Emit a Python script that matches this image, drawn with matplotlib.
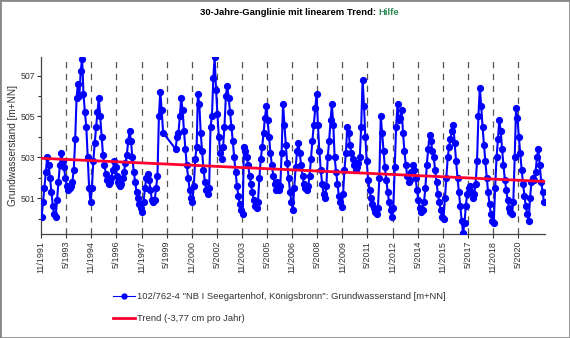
import numpy as np
import pandas as pd
import matplotlib
matplotlib.use("Agg")
import matplotlib.pyplot as plt
from matplotlib.patches import Rectangle
from matplotlib.lines import Line2D

plt.rcParams['font.family'] = ['Liberation Sans', 'DejaVu Sans']

# Monatswerte Grundwasserstand [m+NN], Nov 1991 .. Nov 2021
lvl_1991 = [500.1, 500.8]
lvl_1992 = [501.5, 502.3, 503.0, 502.6, 502.0, 501.3, 500.6, 500.2, 500.1, 500.9, 501.8, 502.6]
lvl_1993 = [503.2, 502.8, 502.5, 502.0, 501.6, 501.4, 501.5, 501.6, 501.8, 502.4, 503.9, 505.9]
lvl_1994 = [506.6, 506.0, 507.2, 507.8, 506.1, 505.2, 504.5, 503.0, 501.5, 500.8, 501.5, 502.8]
lvl_1995 = [503.7, 504.5, 505.2, 505.9, 505.0, 504.0, 503.1, 502.6, 502.2, 501.9, 501.7, 501.8]
lvl_1996 = [502.0, 502.4, 502.8, 502.5, 502.1, 501.8, 501.6, 501.7, 502.0, 502.3, 502.7, 503.1]
lvl_1997 = [503.8, 504.3, 503.8, 503.0, 502.3, 501.8, 501.3, 501.0, 500.7, 500.5, 500.3, 500.8]
lvl_1998 = [501.5, 502.0, 502.2, 501.9, 501.4, 500.9, 500.8, 500.9, 501.5, 502.1, 505.0, 506.2]
lvl_1999 = [505.3, 504.2, np.nan, np.nan, np.nan, np.nan, np.nan, np.nan, np.nan, np.nan, 503.4, 504.0]
lvl_2000 = [504.2, 505.0, 505.9, 505.3, 504.3, 503.4, 502.6, 502.0, 501.4, 501.0, 500.8, 501.6]
lvl_2001 = [502.9, 503.5, 506.1, 505.6, 504.2, 503.3, 502.4, 501.8, 501.4, 501.2, 501.5, 504.5]
lvl_2002 = [505.0, 506.9, 507.9, 506.3, 505.1, 504.0, 503.2, 502.9, 503.5, 504.5, 506.0, 506.5]
lvl_2003 = [505.9, 505.2, 504.5, 503.8, 503.0, 502.3, 501.6, 501.1, 500.7, 500.4, 500.2, 503.5]
lvl_2004 = [503.3, 503.0, 502.6, 502.1, 501.7, 501.3, 500.9, 500.6, 500.5, 500.8, 502.0, 502.9]
lvl_2005 = [503.5, 504.2, 504.9, 505.5, 504.8, 504.0, 503.2, 502.6, 502.1, 501.7, 501.4, 501.8]
lvl_2006 = [501.4, 501.6, 503.2, 505.6, 504.6, 503.6, 502.7, 502.0, 501.3, 500.8, 500.4, 501.5]
lvl_2007 = [502.5, 503.3, 503.7, 503.2, 502.6, 502.1, 501.7, 501.5, 501.4, 501.6, 502.1, 502.9]
lvl_2008 = [503.8, 504.6, 505.4, 506.1, 504.6, 503.3, 502.4, 501.7, 501.2, 501.0, 501.6, 503.0]
lvl_2009 = [503.8, 504.8, 505.6, 504.6, 503.0, 502.3, 501.7, 501.1, 500.8, 500.55, 501.2, 502.4]
lvl_2010 = [503.2, 504.5, 504.2, 503.6, 503.2, 502.9, 502.6, 502.4, 502.5, 502.7, 503.0, 504.5]
lvl_2011 = [506.8, 505.5, 504.0, 502.8, 501.9, 501.4, 501.0, 500.7, 500.5, 500.3, 500.2, 500.5]
lvl_2012 = [502.0, 505.0, 504.2, 503.3, 502.5, 501.9, 501.3, 500.8, 500.4, 500.1, 500.5, 502.5]
lvl_2013 = [504.5, 505.6, 504.8, 504.9, 505.3, 504.2, 503.3, 502.6, 502.1, 501.8, 501.9, 502.3]
lvl_2014 = [502.6, 502.4, 502.0, 501.4, 500.9, 500.5, 500.3, 500.4, 500.8, 501.5, 502.6, 503.4]
lvl_2015 = [504.1, 503.8, 503.3, 503.0, 502.4, 501.8, 501.2, 500.8, 500.4, 500.1, 500.0, 501.0]
lvl_2016 = [502.0, 503.0, 503.5, 503.9, 504.3, 504.6, 503.7, 502.8, 502.0, 501.3, 500.6, 499.9]
lvl_2017 = [499.3, 499.8, 500.6, 501.2, 501.5, 501.6, 501.3, 501.0, 501.2, 501.7, 502.8, 505.0]
lvl_2018 = [506.4, 505.5, 504.5, 503.6, 502.8, 502.0, 501.3, 500.7, 500.2, 499.9, 499.8, 501.5]
lvl_2019 = [503.0, 503.9, 504.8, 504.3, 503.4, 502.6, 501.9, 501.4, 500.9, 500.5, 500.3, 500.2]
lvl_2020 = [500.8, 503.0, 505.4, 504.9, 504.0, 503.2, 502.4, 501.7, 501.1, 500.6, 500.2, 499.9]
lvl_2021 = [501.0, 501.8, 502.0, 501.9, 502.3, 503.0, 503.4, 502.6, 501.8, 501.3, 500.8]

levels = np.concatenate([
    lvl_1991, lvl_1992, lvl_1993, lvl_1994, lvl_1995, lvl_1996, lvl_1997, lvl_1998,
    lvl_1999, lvl_2000, lvl_2001, lvl_2002, lvl_2003, lvl_2004, lvl_2005, lvl_2006,
    lvl_2007, lvl_2008, lvl_2009, lvl_2010, lvl_2011, lvl_2012, lvl_2013, lvl_2014,
    lvl_2015, lvl_2016, lvl_2017, lvl_2018, lvl_2019, lvl_2020, lvl_2021])

# Trend: Startwert und Steigung (-3,77 cm pro Jahr)
trend_start = 502.95
trend_slope = -0.0377
t_start = pd.Timestamp('1991-11-01')
t_end = pd.Timestamp('2021-12-05')

label_series = '102/762-4 "NB I Seegartenhof, Königsbronn": Grundwasserstand [m+NN]'
label_trend = 'Trend (-3,77 cm pro Jahr)'

dates = pd.date_range('1991-11-01', periods=len(levels), freq='MS') + pd.Timedelta(days=14)
s = pd.Series(levels, index=dates).dropna()

fig = plt.figure(figsize=(5.70, 3.38), dpi=100)
fig.patch.set_facecolor('white')
ax = fig.add_axes([0.072, 0.308, 0.884, 0.523])

# gestrichelte Linien an den Datumsticks
xticks = pd.date_range('1991-11-01', '2021-01-01', freq='18MS')
for d in xticks[1:]:
    ax.axvline(d, color='#555555', lw=0.9, ls=(0, (5, 4.5)), zorder=1)

ax.plot(s.index, s.values, color='#0000ff', lw=1.5, marker='o', ms=4.2,
        mec='#0000ff', mfc='#0000ff', zorder=3)

yrs = np.array([0, (t_end - t_start).days / 365.25])
ax.plot([t_start, t_end], trend_start + trend_slope * yrs, color='#ff0030', lw=2, zorder=4)

ax.set_xlim(t_start, t_end)
ax.set_ylim(499.25, 507.9)
ax.set_xticks(xticks)
ax.set_xticklabels([f"{d.month}/{d.year}" for d in xticks], rotation=90, fontsize=6.5, color='#333333')
ax.set_yticks([501, 503, 505, 507])
ax.set_yticks([500, 502, 504, 506], minor=True)
ax.tick_params(axis='y', labelsize=6.3, colors='#333333', length=3, width=0.8, pad=0.8)
ax.tick_params(axis='y', which='minor', length=2.5, width=0.8, color='#333333')
ax.tick_params(axis='x', length=3, width=0.8, color='#333333', pad=2)
for sp in ['top', 'right']:
    ax.spines[sp].set_visible(False)
for sp in ['left', 'bottom']:
    ax.spines[sp].set_color('#444444')
    ax.spines[sp].set_linewidth(0.9)
ax.set_ylabel('Grundwasserstand [m+NN]', fontsize=7.2, color='#333333', labelpad=2.5)

t1 = fig.text(0.351, 0.962, '30-Jahre-Ganglinie mit linearem Trend: ', fontsize=6.8,
              fontweight='bold', color='black', ha='left', va='center')
fig.canvas.draw()
bb = t1.get_window_extent()
fig.text(bb.x1 / fig.bbox.width, 0.962, 'Hilfe', fontsize=6.8, fontweight='bold',
         color='#2e8b57', ha='left', va='center')

handles = [Line2D([], [], color='#0000ff', lw=0.8, marker='o', ms=3.5),
           Line2D([], [], color='#ff0030', lw=2)]
fig.legend(handles, [label_series, label_trend], loc='center left',
           bbox_to_anchor=(0.198, 0.09), frameon=False, fontsize=6.8,
           handlelength=2.3, handletextpad=0.3, labelspacing=1.35, borderpad=0,
           borderaxespad=0, labelcolor='#333333')

fig.patches.append(Rectangle((0, 0), 1, 1, transform=fig.transFigure, fill=False,
                             edgecolor='#888888', lw=2))

fig.savefig('out.png', dpi=100)
